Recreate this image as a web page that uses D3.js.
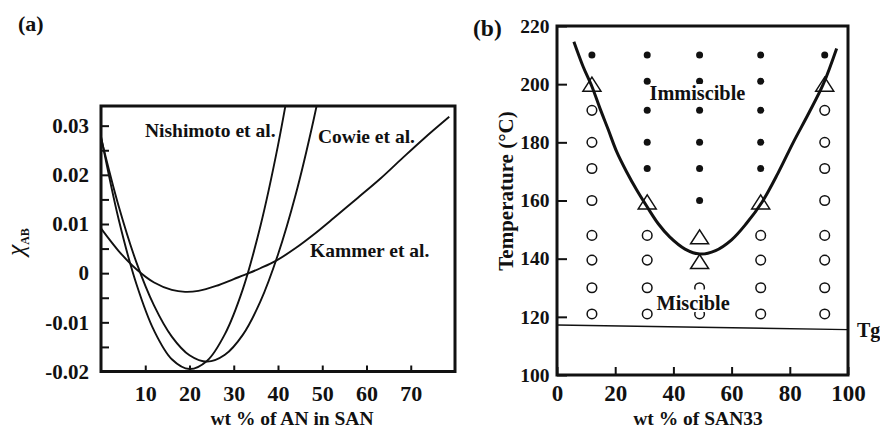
<!DOCTYPE html>
<html>
<head>
<meta charset="utf-8">
<script src="https://cdn.jsdelivr.net/npm/d3@7"></script>
<style>
  body { margin: 0; background: #fff; }
  svg { display: block; font-family: "Liberation Serif", "Times New Roman", serif; font-weight: bold; }
  .tick line { stroke: #111; stroke-width: 2; }
  .tick text { fill: #111; font-family: "Liberation Serif", "Times New Roman", serif; font-weight: bold; }
</style>
</head>
<body>
<svg id="fig"></svg>
<script>
const width = 880
const height = 429

const nishimoto = [[0, 0.0278], [4, 0.0109], [8, -0.0022], [12, -0.0117], [16, -0.0175], [20, -0.0195],
                   [24, -0.0178], [28, -0.0124], [32, -0.0034], [36, 0.0095], [40, 0.026], [44, 0.046]]
const cowie = [[0, 0.0275], [4, 0.0136], [8, 0.0022], [12, -0.0066], [16, -0.0129], [20, -0.0167], [24, -0.018],
               [28, -0.0166], [32, -0.0126], [36, -0.0058], [40, 0.0038], [44, 0.016], [48, 0.031], [52, 0.0486]]
const kammer = [[0, 0.0091], [4, 0.0045], [8, 0.0008], [12, -0.0019], [16, -0.0034], [19, -0.0038], [22, -0.0036],
                [26, -0.0026], [30, -0.0012], [33.4, 0.0], [36, 0.001], [39.5, 0.0025], [44, 0.0051], [48, 0.0078],
                [52.6, 0.0112], [58, 0.0153], [63.1, 0.0192], [68, 0.0233], [73, 0.0274], [78.7, 0.0318]]
const xTicksA = [10, 20, 30, 40, 50, 60, 70]
const yTicksA = [-0.02, -0.015, -0.01, -0.005, 0, 0.005, 0.01, 0.015, 0.02, 0.025, 0.03]
const yLabelsA = ["-0.02", "-0.01", "0", "0.01", "0.02", "0.03"]

// ---- panel (b): phase diagram
const boundary = [[5.8, 214.6], [9, 206.0], [12, 199.2], [14.8, 191.6], [17.6, 184.4], [20.5, 176.8], [23.9, 169.9],
                  [27.4, 163.6], [30.8, 158.1], [34.8, 152.0], [38.8, 147.4], [44, 143.3], [49.1, 141.6], [54.5, 142.8],
                  [60, 146.5], [65, 152], [70.5, 159.5], [76, 169.5], [81.2, 180], [86.5, 190], [91.5, 200], [96.1, 212.3]]
const immiscible = [[12, 210],
                    [31, 210], [31, 201], [31, 191], [31, 180], [31, 171],
                    [49, 210], [49, 201], [49, 191], [49, 180], [49, 171], [49, 160],
                    [70, 210], [70, 201], [70, 191], [70, 180], [70, 171],
                    [92, 210]]
const miscible = [[12, 191], [12, 180], [12, 171], [12, 160], [12, 148], [12, 139.5], [12, 130], [12, 121],
                  [31, 148], [31, 139.5], [31, 130], [31, 121],
                  [49, 130], [49, 121],
                  [70, 148], [70, 139.5], [70, 130], [70, 121],
                  [92, 191], [92, 180], [92, 171], [92, 160], [92, 148], [92, 139.5], [92, 130], [92, 121]]
const cloudPoints = [[12, 200], [31, 159.5], [49, 147.5], [49, 139], [70, 159.5], [92, 200]]
const tgLine = [[0, 117.2], [100, 115.6]]
const xTicksB = [0, 20, 40, 60, 80, 100]
const yTicksB = [100, 120, 140, 160, 180, 200, 220]

const svg = d3.select("#fig")
            .attr("width", width)
            .attr("height", height);

// ================= panel (a)
const xA = d3.scaleLinear().domain([0, 80]).range([101, 455])
const yA = d3.scaleLinear().domain([-0.02, 0.034]).range([371.5, 106])

svg.append("clipPath").attr("id", "clipA")
   .append("rect")
   .attr("x", xA(0)).attr("y", yA(0.034))
   .attr("width", xA(80) - xA(0)).attr("height", yA(-0.02) - yA(0.034));

const lineA = d3.line()
                .x(d => xA(d[0]))
                .y(d => yA(d[1]))
                .curve(d3.curveCatmullRom.alpha(0.5))

svg.append("g")
   .attr("clip-path", "url(#clipA)")
   .selectAll("path")
   .data([nishimoto, cowie, kammer])
   .enter()
   .append("path")
   .attr("d", lineA)
   .attr("fill", "none")
   .attr("stroke", "#111")
   .attr("stroke-width", 1.9);

svg.append("g")
   .attr("transform", `translate(${xA(0)},0)`)
   .call(d3.axisLeft(yA).tickValues(yTicksA).tickSize(-8).tickPadding(12)
           .tickFormat(d => yLabelsA.includes(String(d)) ? String(d) : ""))
   .attr("font-family", null)
   .call(g => g.select(".domain").remove())
   .selectAll("text").style("font-size", "21px");

svg.append("g")
   .attr("transform", `translate(0,${yA(-0.02)})`)
   .call(d3.axisBottom(xA).tickValues(xTicksA).tickSize(-6).tickPadding(14))
   .attr("font-family", null)
   .call(g => g.select(".domain").remove())
   .selectAll("text").style("font-size", "22px");

svg.append("rect")
   .attr("x", xA(0)).attr("y", yA(0.034))
   .attr("width", xA(80) - xA(0)).attr("height", yA(-0.02) - yA(0.034))
   .attr("fill", "none").attr("stroke", "#111").attr("stroke-width", 3);

const labelA = svg.append("g").attr("fill", "#111").style("font-size", "19.5px")
labelA.append("text").attr("x", 145).attr("y", 137).text("Nishimoto et al.")
labelA.append("text").attr("x", 318).attr("y", 143).text("Cowie et al.")
labelA.append("text").attr("x", 310).attr("y", 256.5).text("Kammer et al.")

svg.append("text").attr("x", 18).attr("y", 31).attr("fill", "#111")
   .style("font-size", "22px").text("(a)");

svg.append("text").attr("x", 292).attr("y", 424.5).attr("text-anchor", "middle")
   .attr("fill", "#111").style("font-size", "19.5px").text("wt % of AN in SAN");

const chi = svg.append("text")
               .attr("transform", "translate(24,242) rotate(-90)")
               .attr("text-anchor", "middle").attr("fill", "#111")
chi.append("tspan").style("font-size", "25px").style("font-style", "italic").style("font-weight", "normal").text("χ")
chi.append("tspan").attr("dy", 5).style("font-size", "12px").text("AB")

// ================= panel (b)
const xB = d3.scaleLinear().domain([0, 100]).range([557, 848])
const yB = d3.scaleLinear().domain([100, 220]).range([375, 26])

svg.append("path")
   .datum(tgLine)
   .attr("d", d3.line().x(d => xB(d[0])).y(d => yB(d[1])))
   .attr("stroke", "#111").attr("stroke-width", 1.4).attr("fill", "none");

svg.append("path")
   .datum(boundary)
   .attr("d", d3.line().x(d => xB(d[0])).y(d => yB(d[1])).curve(d3.curveCatmullRom.alpha(0.5)))
   .attr("stroke", "#111").attr("stroke-width", 3).attr("fill", "none");

svg.append("g").selectAll("circle")
   .data(immiscible).enter().append("circle")
   .attr("cx", d => xB(d[0])).attr("cy", d => yB(d[1]))
   .attr("r", 3.5).attr("fill", "#111");

svg.append("g").selectAll("circle")
   .data(miscible).enter().append("circle")
   .attr("cx", d => xB(d[0])).attr("cy", d => yB(d[1]))
   .attr("r", 4.8).attr("fill", "#fff").attr("stroke", "#111").attr("stroke-width", 1.5);

svg.append("g").selectAll("path")
   .data(cloudPoints).enter().append("path")
   .attr("d", d => {
       const cx = xB(d[0]), cy = yB(d[1]);
       return `M${cx - 9},${cy + 7}L${cx + 9},${cy + 7}L${cx},${cy - 7}Z`;
   })
   .attr("fill", "none").attr("stroke", "#111").attr("stroke-width", 1.5);

// region labels sit on white boxes, partly hiding the marks below them
svg.append("rect").attr("x", 651).attr("y", 84).attr("width", 94).attr("height", 20).attr("fill", "#fff")
svg.append("rect").attr("x", 656).attr("y", 289.5).attr("width", 75).attr("height", 22.5).attr("fill", "#fff")
svg.append("text").attr("x", 649.5).attr("y", 99.5).attr("fill", "#111").style("font-size", "20.3px").text("Immiscible")
svg.append("text").attr("x", 656.5).attr("y", 310).attr("fill", "#111").style("font-size", "20.3px").text("Miscible")
svg.append("text").attr("x", 857).attr("y", 336.5).attr("fill", "#111").style("font-size", "20px").text("Tg")

svg.append("g")
   .attr("transform", `translate(${xB(0)},0)`)
   .call(d3.axisLeft(yB).tickValues(yTicksB).tickSize(-10).tickPadding(7.5))
   .attr("font-family", null)
   .call(g => g.select(".domain").remove())
   .selectAll("text").style("font-size", "19.5px");

svg.append("g")
   .attr("transform", `translate(0,${yB(100)})`)
   .call(d3.axisBottom(xB).tickValues(xTicksB).tickSize(-8).tickPadding(10))
   .attr("font-family", null)
   .call(g => g.select(".domain").remove())
   .selectAll("text").style("font-size", "23px");

svg.append("rect")
   .attr("x", xB(0)).attr("y", yB(220))
   .attr("width", xB(100) - xB(0)).attr("height", yB(100) - yB(220))
   .attr("fill", "none").attr("stroke", "#111").attr("stroke-width", 3);

svg.append("text").attr("x", 473).attr("y", 36).attr("fill", "#111")
   .style("font-size", "23.5px").text("(b)");

svg.append("text").attr("transform", "translate(506,191) rotate(-90)")
   .attr("text-anchor", "middle").attr("dy", "0.35em")
   .attr("fill", "#111").style("font-size", "21px").text("Temperature (°C)");

svg.append("text").attr("x", 698).attr("y", 424.5).attr("text-anchor", "middle")
   .attr("fill", "#111").style("font-size", "19.5px").text("wt % of SAN33");
</script>
</body>
</html>
